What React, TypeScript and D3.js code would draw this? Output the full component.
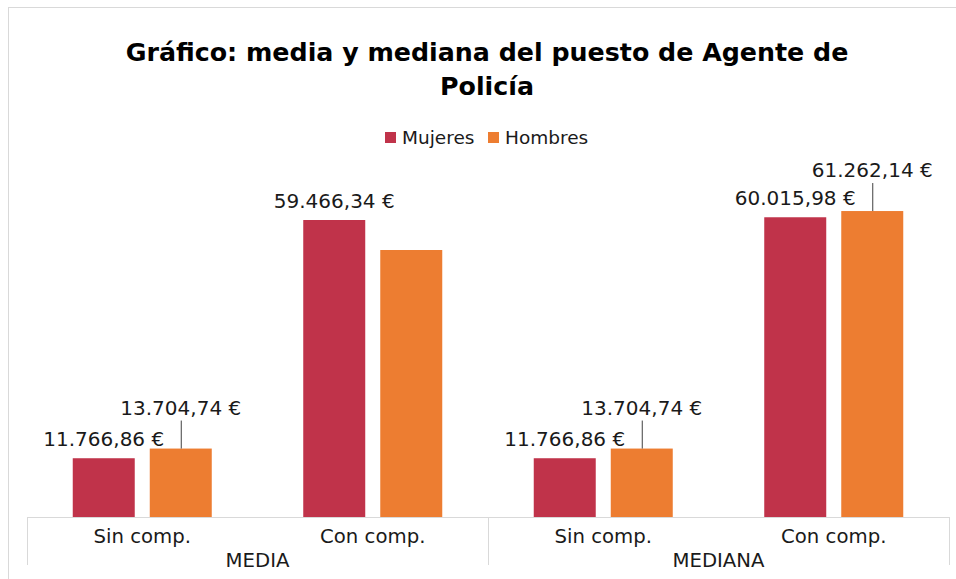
import React from "react";
import * as d3 from "d3";

// chart values
const groups = ["MEDIA", "MEDIANA"];
const categories = ["Sin comp.", "Con comp."];
const seriesNames = ["Mujeres", "Hombres"];
const mujeres = [11766.86, 59466.34, 11766.86, 60015.98];
const hombres = [13704.74, 53460, 13704.74, 61262.14];
// which data labels are shown (the one for Hombres / MEDIA / Con comp. is absent)
const mujeresLabels = [true, true, true, true];
const hombresLabels = [true, false, true, true];

const colors = ["#c0334a", "#ed7d31"];
const W = 956;
const H = 579;
const FONT = "'DejaVu Sans', Verdana, sans-serif";

const fmt = (v: number) => {
  const s = v.toFixed(2).split(".");
  const intPart = s[0].replace(/\B(?=(\d{3})+(?!\d))/g, ".");
  return `${intPart},${s[1]} €`;
};

export default function App() {
  const keys = groups.flatMap((g) => categories.map((c) => `${g}|${c}`));
  const series = [mujeres, hombres];
  const showLabel = [mujeresLabels, hombresLabels];

  const x0 = d3.scaleBand().domain(keys).range([27, 949]).padding(0);
  const x1 = d3
    .scaleBand()
    .domain(seriesNames)
    .range([0, x0.bandwidth()])
    .paddingInner(0.195)
    .paddingOuter(0.594);
  const y = d3.scaleLinear().domain([0, 70000]).range([517, 167.4]);

  const baseY = y(0);
  const groupEdges = groups.map((g) => x0(`${g}|${categories[0]}`)!);
  groupEdges.push(x0.range()[1]);

  return (
    <svg
      width={W}
      height={H}
      style={{ position: "absolute", left: 0, top: 0, background: "#fff" }}
      fontFamily={FONT}
    >
      {/* outer chart border */}
      <line x1={8} x2={W} y1={7.5} y2={7.5} stroke="#d9d9d9" />
      <line x1={8.5} x2={8.5} y1={7} y2={H} stroke="#d9d9d9" />

      {/* title */}
      <text x={487} textAnchor="middle" fontWeight="bold" fontSize={25.3} fill="#000">
        <tspan x={487} y={61}>Gráfico: media y mediana del puesto de Agente de</tspan>
        <tspan x={487} y={95}>Policía</tspan>
      </text>

      {/* legend */}
      {seriesNames.map((s, i) => {
        const lx = [385, 488][i];
        return (
          <g key={s}>
            <rect x={lx} y={132} width={11} height={11} fill={colors[i]} />
            <text x={lx + 17} y={144} fontSize={18.5} fill="#1a1a1a">
              {s}
            </text>
          </g>
        );
      })}

      {/* bars */}
      {series.map((vals, si) =>
        vals.map((v, i) => (
          <rect
            key={`${si}-${i}`}
            x={x0(keys[i])! + x1(seriesNames[si])!}
            y={y(v)}
            width={x1.bandwidth()}
            height={baseY - y(v)}
            fill={colors[si]}
          />
        ))
      )}

      {/* data labels */}
      {series.map((vals, si) =>
        vals.map((v, i) => {
          if (!showLabel[si][i]) return null;
          const cx = x0(keys[i])! + x1(seriesNames[si])! + x1.bandwidth() / 2;
          const top = y(v);
          const lifted = si === 1;
          const ty = lifted ? top - 34 : top - 12;
          return (
            <g key={`l${si}-${i}`}>
              {lifted && (
                <line x1={cx + 0.5} x2={cx + 0.5} y1={ty + 6} y2={top} stroke="#404040" />
              )}
              <text x={cx} y={ty} textAnchor="middle" fontSize={20} fill="#1a1a1a">
                {fmt(v)}
              </text>
            </g>
          );
        })
      )}

      {/* category axis */}
      <line x1={x0.range()[0]} x2={x0.range()[1]} y1={baseY + 0.5} y2={baseY + 0.5} stroke="#d9d9d9" />
      {groupEdges.map((gx, i) => (
        <line key={i} x1={gx + 0.5} x2={gx + 0.5} y1={baseY} y2={565} stroke="#d9d9d9" />
      ))}
      {keys.map((k) => (
        <text
          key={k}
          x={x0(k)! + x0.bandwidth() / 2}
          y={543}
          textAnchor="middle"
          fontSize={19.7}
          fill="#1a1a1a"
        >
          {k.split("|")[1]}
        </text>
      ))}
      {groups.map((g, i) => (
        <text
          key={g}
          x={(groupEdges[i] + groupEdges[i + 1]) / 2}
          y={567}
          textAnchor="middle"
          fontSize={19.7}
          fill="#1a1a1a"
        >
          {g}
        </text>
      ))}
    </svg>
  );
}
